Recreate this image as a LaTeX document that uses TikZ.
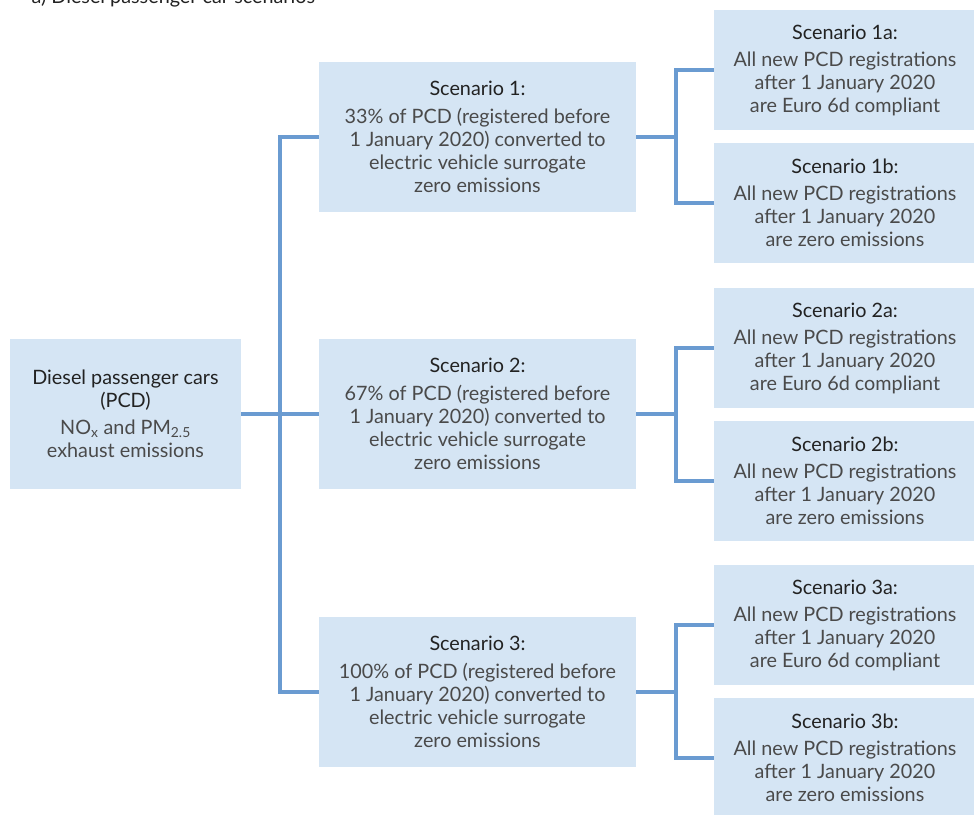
\documentclass[tikz,border=0pt]{standalone}
\usepackage{fontspec}
\setmainfont{Lato}
\usepackage{xcolor}
\usetikzlibrary{positioning}
\definecolor{boxblue}{HTML}{D5E5F4}
\definecolor{lineblue}{HTML}{6A9BD1}
\definecolor{headgray}{HTML}{222222}
\definecolor{bodygray}{HTML}{4A4A4A}
\newcommand{\headtxt}[1]{{\color{headgray}#1}}

\begin{document}
\begin{tikzpicture}[
        x=1pt, y=-1pt,
        every node/.style={font=\fontsize{19.8}{23}\selectfont, text=bodygray},
        box/.style={rectangle, fill=boxblue, align=center, inner sep=0pt, minimum width=317pt, minimum height=150pt},
        rootbox/.style={box, minimum width=231pt},
        subbox/.style={box, minimum width=262pt, minimum height=120pt},
        link/.style={draw=lineblue, line width=3.2pt}
    ]
    \useasboundingbox (0,0) rectangle (974,814);
    \node[anchor=base west, text=headgray] (caption) at (28,3) {a) Diesel passenger car scenarios};
    % root
    \node[rootbox] (root) at (125.5,414) {\headtxt{Diesel passenger cars}\\ \headtxt{(PCD)}\\[4pt] NO\textsubscript{x} and PM\textsubscript{2.5}\\ exhaust emissions};
    % scenarios
    \node[box] (s1) at (477.5,137) {\headtxt{Scenario 1:}\\[5pt] 33\% of PCD (registered before\\ 1 January 2020) converted to\\ electric vehicle surrogate\\ zero emissions};
    \node[box] (s2) at (477.5,414) {\headtxt{Scenario 2:}\\[5pt] 67\% of PCD (registered before\\ 1 January 2020) converted to\\ electric vehicle surrogate\\ zero emissions};
    \node[box] (s3) at (477.5,692) {\headtxt{Scenario 3:}\\[5pt] 100\% of PCD (registered before\\ 1 January 2020) converted to\\ electric vehicle surrogate\\ zero emissions};
    % sub scenarios
    \node[subbox] (s1a) at (845,70) {\headtxt{Scenario 1a:}\\[4pt] All new PCD registrations\\ after 1 January 2020\\ are Euro 6d compliant};
    \node[subbox] (s1b) at (845,203) {\headtxt{Scenario 1b:}\\[4pt] All new PCD registrations\\ after 1 January 2020\\ are zero emissions};
    \node[subbox] (s2a) at (845,348) {\headtxt{Scenario 2a:}\\[4pt] All new PCD registrations\\ after 1 January 2020\\ are Euro 6d compliant};
    \node[subbox] (s2b) at (845,481) {\headtxt{Scenario 2b:}\\[4pt] All new PCD registrations\\ after 1 January 2020\\ are zero emissions};
    \node[subbox] (s3a) at (845,625) {\headtxt{Scenario 3a:}\\[4pt] All new PCD registrations\\ after 1 January 2020\\ are Euro 6d compliant};
    \node[subbox] (s3b) at (845,758) {\headtxt{Scenario 3b:}\\[4pt] All new PCD registrations\\ after 1 January 2020\\ are zero emissions};
    % branch points
    \coordinate (trunk) at (280,414);
    \coordinate (b1) at (676,137);
    \coordinate (b2) at (676,414);
    \coordinate (b3) at (676,692);
    % connectors
    \draw[link] (root.east) -- (s2.west);
    \draw[link] (s1.west) -| (trunk) |- (s3.west);
    \draw[link] (s1.east) -- (b1);
    \draw[link] (s1a.west) -| (b1) |- (s1b.west);
    \draw[link] (s2.east) -- (b2);
    \draw[link] (s2a.west) -| (b2) |- (s2b.west);
    \draw[link] (s3.east) -- (b3);
    \draw[link] (s3a.west) -| (b3) |- (s3b.west);
\end{tikzpicture}
\end{document}
